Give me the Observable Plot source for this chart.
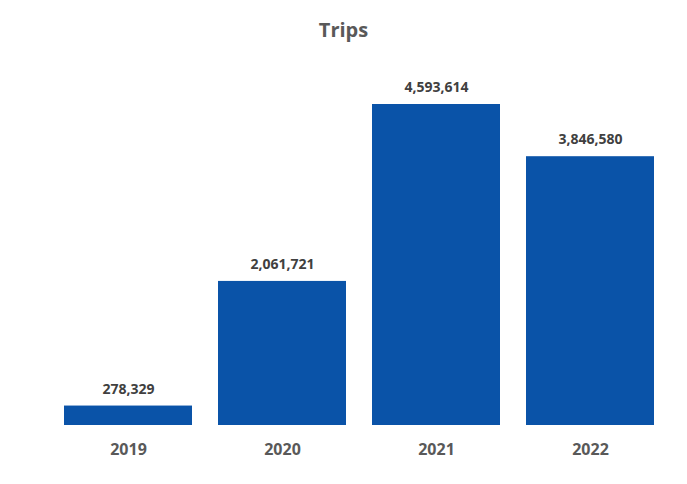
<!DOCTYPE html>
<html>
<head>
<meta charset="utf-8">
<script src="https://cdn.jsdelivr.net/npm/d3@7"></script>
<script src="https://cdn.jsdelivr.net/npm/@observablehq/plot@0.6"></script>
<style>
  html, body { margin: 0; padding: 0; background: #fff; }
  #wrap { width: 687px; font-family: "Open Sans", sans-serif; }
  #title { height: 50px; line-height: 60px; text-align: center; font-size: 20px; font-weight: bold; color: #595959; }
</style>
</head>
<body>
<div id="wrap">
  <div id="title">Trips</div>
  <div id="chart"></div>
</div>
<script>
const years = ["2019", "2020", "2021", "2022"];
const trips = [278329, 2061721, 4593614, 3846580];

const data = years.map((y, i) => ({year: y, trips: trips[i]}));
const fmt = d3.format(",");

const chart = Plot.plot({
  width: 687,
  height: 434,
  marginLeft: 63,
  marginRight: 32,
  marginTop: 54,
  marginBottom: 59,
  style: {fontFamily: "'Open Sans', sans-serif", background: "#fff"},
  x: {domain: years, paddingInner: 0.17, paddingOuter: 0, label: null},
  y: {domain: [0, d3.max(trips)], axis: null},
  marks: [
    Plot.barY(data, {x: "year", y: "trips", fill: "#0a53a8"}),
    Plot.text(data, {x: "year", y: "trips", text: d => fmt(d.trips), dy: -17, fontSize: 14, fontWeight: "bold", fill: "#404040"}),
    Plot.axisX({tickSize: 0, tickPadding: 18, fontSize: 16, fontWeight: "bold", color: "#595959", label: null})
  ]
});
document.getElementById("chart").appendChild(chart);
</script>
</body>
</html>
